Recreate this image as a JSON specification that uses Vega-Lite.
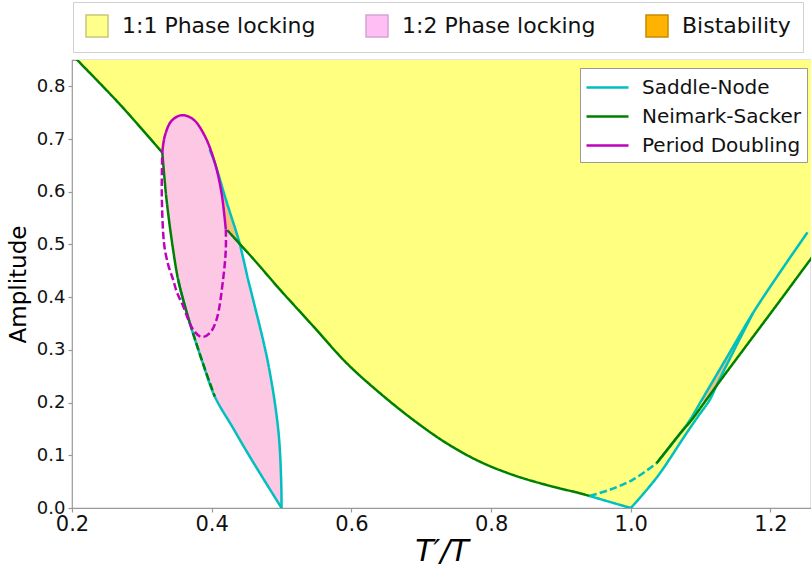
{
  "$schema": "https://vega.github.io/schema/vega-lite/v6.json",
  "width": 739,
  "height": 448,
  "autosize": {"type": "none"},
  "padding": {"left": 72, "top": 60, "right": 0, "bottom": 59},
  "background": "white",
  "config": {
    "view": {"stroke": "#999999", "strokeWidth": 1.2},
    "font": "DejaVu Sans"
  },
  "datasets": {
    "yel": [
      {"i": 0, "x": 0.2, "y": 0.861}, {"i": 1, "x": 0.2064, "y": 0.8517}, {"i": 2, "x": 0.2684, "y": 0.766},
      {"i": 3, "x": 0.3293, "y": 0.6743}, {"i": 4, "x": 0.376, "y": 0.6}, {"i": 5, "x": 0.4221, "y": 0.5272},
      {"i": 6, "x": 0.46, "y": 0.472}, {"i": 7, "x": 0.4977, "y": 0.4144}, {"i": 8, "x": 0.5455, "y": 0.3447},
      {"i": 9, "x": 0.593, "y": 0.2751}, {"i": 10, "x": 0.6407, "y": 0.2181}, {"i": 11, "x": 0.6884, "y": 0.1673},
      {"i": 12, "x": 0.7361, "y": 0.123}, {"i": 13, "x": 0.7839, "y": 0.088}, {"i": 14, "x": 0.8315, "y": 0.0627},
      {"i": 15, "x": 0.8793, "y": 0.0437}, {"i": 16, "x": 0.9271, "y": 0.0279}, {"i": 17, "x": 0.941, "y": 0.0228},
      {"i": 18, "x": 0.97, "y": 0.0115}, {"i": 19, "x": 1.0, "y": 0.0}, {"i": 20, "x": 1.02, "y": 0.03},
      {"i": 21, "x": 1.0417, "y": 0.066}, {"i": 22, "x": 1.0798, "y": 0.142}, {"i": 23, "x": 1.0964, "y": 0.174},
      {"i": 24, "x": 1.113, "y": 0.205}, {"i": 25, "x": 1.123, "y": 0.233}, {"i": 26, "x": 1.17, "y": 0.316},
      {"i": 27, "x": 1.21, "y": 0.387}, {"i": 28, "x": 1.258, "y": 0.473}, {"i": 29, "x": 1.27, "y": 0.494},
      {"i": 30, "x": 1.27, "y": 0.87}, {"i": 31, "x": 0.2, "y": 0.87}
    ],
    "pink": [
      {"i": 0, "x": 0.3293, "y": 0.6743}, {"i": 1, "x": 0.3329, "y": 0.7059}, {"i": 2, "x": 0.3424, "y": 0.7344},
      {"i": 3, "x": 0.3568, "y": 0.7452}, {"i": 4, "x": 0.3734, "y": 0.7376}, {"i": 5, "x": 0.3901, "y": 0.7059},
      {"i": 6, "x": 0.4044, "y": 0.6553}, {"i": 7, "x": 0.414, "y": 0.5983}, {"i": 8, "x": 0.4202, "y": 0.5285},
      {"i": 9, "x": 0.44, "y": 0.502}, {"i": 10, "x": 0.4521, "y": 0.4335}, {"i": 11, "x": 0.4593, "y": 0.3954},
      {"i": 12, "x": 0.4807, "y": 0.2751}, {"i": 13, "x": 0.4953, "y": 0.1483}, {"i": 14, "x": 0.4995, "y": 0.05},
      {"i": 15, "x": 0.5, "y": 0.0}, {"i": 16, "x": 0.4545, "y": 0.0975}, {"i": 17, "x": 0.43, "y": 0.153},
      {"i": 18, "x": 0.4044, "y": 0.2116}, {"i": 19, "x": 0.386, "y": 0.28}, {"i": 20, "x": 0.3686, "y": 0.3511},
      {"i": 21, "x": 0.3591, "y": 0.3954}, {"i": 22, "x": 0.3519, "y": 0.4335}, {"i": 23, "x": 0.3447, "y": 0.4905},
      {"i": 24, "x": 0.3353, "y": 0.5856}
    ],
    "orange": [
      {"poly": "a", "i": 0, "x": 0.4044, "y": 0.6553}, {"poly": "a", "i": 1, "x": 0.414, "y": 0.5983},
      {"poly": "a", "i": 2, "x": 0.4202, "y": 0.5285}, {"poly": "a", "i": 3, "x": 0.44, "y": 0.502},
      {"poly": "a", "i": 4, "x": 0.4355, "y": 0.5222}, {"poly": "a", "i": 5, "x": 0.4202, "y": 0.5856},
      {"poly": "b", "i": 0, "x": 1.0994, "y": 0.2}, {"poly": "b", "i": 1, "x": 1.1394, "y": 0.29},
      {"poly": "b", "i": 2, "x": 1.175, "y": 0.37}, {"poly": "b", "i": 3, "x": 1.15, "y": 0.305},
      {"poly": "b", "i": 4, "x": 1.123, "y": 0.233}, {"poly": "b", "i": 5, "x": 1.108, "y": 0.205}
    ],
    "cyan": [
      {"curve": "Saddle-Node", "seg": "L", "dash": "solid", "i": 0, "x": 0.3519, "y": 0.4335},
      {"curve": "Saddle-Node", "seg": "L", "dash": "solid", "i": 1, "x": 0.3591, "y": 0.3954},
      {"curve": "Saddle-Node", "seg": "L", "dash": "solid", "i": 2, "x": 0.3686, "y": 0.3511},
      {"curve": "Saddle-Node", "seg": "L", "dash": "solid", "i": 3, "x": 0.386, "y": 0.28},
      {"curve": "Saddle-Node", "seg": "L", "dash": "solid", "i": 4, "x": 0.4044, "y": 0.2116},
      {"curve": "Saddle-Node", "seg": "L", "dash": "solid", "i": 5, "x": 0.43, "y": 0.153},
      {"curve": "Saddle-Node", "seg": "L", "dash": "solid", "i": 6, "x": 0.4545, "y": 0.0975},
      {"curve": "Saddle-Node", "seg": "L", "dash": "solid", "i": 7, "x": 0.5, "y": 0.0},
      {"curve": "Saddle-Node", "seg": "R", "dash": "solid", "i": 0, "x": 0.397, "y": 0.68},
      {"curve": "Saddle-Node", "seg": "R", "dash": "solid", "i": 1, "x": 0.4044, "y": 0.6553},
      {"curve": "Saddle-Node", "seg": "R", "dash": "solid", "i": 2, "x": 0.4202, "y": 0.5856},
      {"curve": "Saddle-Node", "seg": "R", "dash": "solid", "i": 3, "x": 0.4355, "y": 0.5222},
      {"curve": "Saddle-Node", "seg": "R", "dash": "solid", "i": 4, "x": 0.44, "y": 0.502},
      {"curve": "Saddle-Node", "seg": "R", "dash": "solid", "i": 5, "x": 0.4521, "y": 0.4335},
      {"curve": "Saddle-Node", "seg": "R", "dash": "solid", "i": 6, "x": 0.4593, "y": 0.3954},
      {"curve": "Saddle-Node", "seg": "R", "dash": "solid", "i": 7, "x": 0.4807, "y": 0.2751},
      {"curve": "Saddle-Node", "seg": "R", "dash": "solid", "i": 8, "x": 0.4953, "y": 0.1483},
      {"curve": "Saddle-Node", "seg": "R", "dash": "solid", "i": 9, "x": 0.4995, "y": 0.05},
      {"curve": "Saddle-Node", "seg": "R", "dash": "solid", "i": 10, "x": 0.5, "y": 0.0},
      {"curve": "Saddle-Node", "seg": "D", "dash": "dashed", "i": 0, "x": 0.941, "y": 0.0228},
      {"curve": "Saddle-Node", "seg": "D", "dash": "dashed", "i": 1, "x": 0.9685, "y": 0.034},
      {"curve": "Saddle-Node", "seg": "D", "dash": "dashed", "i": 2, "x": 1.002, "y": 0.053},
      {"curve": "Saddle-Node", "seg": "D", "dash": "dashed", "i": 3, "x": 1.037, "y": 0.085},
      {"curve": "Saddle-Node", "seg": "C2a", "dash": "solid", "i": 0, "x": 0.941, "y": 0.0228},
      {"curve": "Saddle-Node", "seg": "C2a", "dash": "solid", "i": 1, "x": 0.97, "y": 0.0115},
      {"curve": "Saddle-Node", "seg": "C2a", "dash": "solid", "i": 2, "x": 1.0, "y": 0.0},
      {"curve": "Saddle-Node", "seg": "C2b", "dash": "solid", "i": 0, "x": 1.0, "y": 0.0},
      {"curve": "Saddle-Node", "seg": "C2b", "dash": "solid", "i": 1, "x": 1.02, "y": 0.03},
      {"curve": "Saddle-Node", "seg": "C2b", "dash": "solid", "i": 2, "x": 1.0417, "y": 0.066},
      {"curve": "Saddle-Node", "seg": "C2b", "dash": "solid", "i": 3, "x": 1.0798, "y": 0.142},
      {"curve": "Saddle-Node", "seg": "C2b", "dash": "solid", "i": 4, "x": 1.0964, "y": 0.174},
      {"curve": "Saddle-Node", "seg": "C2b", "dash": "solid", "i": 5, "x": 1.113, "y": 0.205},
      {"curve": "Saddle-Node", "seg": "C2b", "dash": "solid", "i": 6, "x": 1.123, "y": 0.233},
      {"curve": "Saddle-Node", "seg": "C2b", "dash": "solid", "i": 7, "x": 1.15, "y": 0.305},
      {"curve": "Saddle-Node", "seg": "C2b", "dash": "solid", "i": 8, "x": 1.175, "y": 0.37},
      {"curve": "Saddle-Node", "seg": "C1", "dash": "solid", "i": 0, "x": 1.037, "y": 0.085},
      {"curve": "Saddle-Node", "seg": "C1", "dash": "solid", "i": 1, "x": 1.071, "y": 0.142},
      {"curve": "Saddle-Node", "seg": "C1", "dash": "solid", "i": 2, "x": 1.0847, "y": 0.167},
      {"curve": "Saddle-Node", "seg": "C1", "dash": "solid", "i": 3, "x": 1.0994, "y": 0.2},
      {"curve": "Saddle-Node", "seg": "C1", "dash": "solid", "i": 4, "x": 1.1394, "y": 0.29},
      {"curve": "Saddle-Node", "seg": "C1", "dash": "solid", "i": 5, "x": 1.175, "y": 0.37},
      {"curve": "Saddle-Node", "seg": "C1", "dash": "solid", "i": 6, "x": 1.215, "y": 0.45},
      {"curve": "Saddle-Node", "seg": "C1", "dash": "solid", "i": 7, "x": 1.253, "y": 0.523}
    ],
    "green": [
      {"curve": "Neimark-Sacker", "seg": "A", "dash": "solid", "i": 0, "x": 0.2, "y": 0.861},
      {"curve": "Neimark-Sacker", "seg": "A", "dash": "solid", "i": 1, "x": 0.2064, "y": 0.8517},
      {"curve": "Neimark-Sacker", "seg": "A", "dash": "solid", "i": 2, "x": 0.2684, "y": 0.766},
      {"curve": "Neimark-Sacker", "seg": "A", "dash": "solid", "i": 3, "x": 0.3293, "y": 0.6743},
      {"curve": "Neimark-Sacker", "seg": "L", "dash": "solid", "i": 0, "x": 0.3293, "y": 0.6743},
      {"curve": "Neimark-Sacker", "seg": "L", "dash": "solid", "i": 1, "x": 0.3353, "y": 0.5856},
      {"curve": "Neimark-Sacker", "seg": "L", "dash": "solid", "i": 2, "x": 0.3447, "y": 0.4905},
      {"curve": "Neimark-Sacker", "seg": "L", "dash": "solid", "i": 3, "x": 0.3519, "y": 0.4335},
      {"curve": "Neimark-Sacker", "seg": "L", "dash": "solid", "i": 4, "x": 0.3591, "y": 0.3954},
      {"curve": "Neimark-Sacker", "seg": "L", "dash": "solid", "i": 5, "x": 0.3686, "y": 0.3511},
      {"curve": "Neimark-Sacker", "seg": "Ld", "dash": "dashed", "i": 0, "x": 0.3686, "y": 0.3511},
      {"curve": "Neimark-Sacker", "seg": "Ld", "dash": "dashed", "i": 1, "x": 0.386, "y": 0.28},
      {"curve": "Neimark-Sacker", "seg": "Ld", "dash": "dashed", "i": 2, "x": 0.4044, "y": 0.2116},
      {"curve": "Neimark-Sacker", "seg": "B", "dash": "solid", "i": 0, "x": 0.4221, "y": 0.5272},
      {"curve": "Neimark-Sacker", "seg": "B", "dash": "solid", "i": 1, "x": 0.46, "y": 0.472},
      {"curve": "Neimark-Sacker", "seg": "B", "dash": "solid", "i": 2, "x": 0.4977, "y": 0.4144},
      {"curve": "Neimark-Sacker", "seg": "B", "dash": "solid", "i": 3, "x": 0.5455, "y": 0.3447},
      {"curve": "Neimark-Sacker", "seg": "B", "dash": "solid", "i": 4, "x": 0.593, "y": 0.2751},
      {"curve": "Neimark-Sacker", "seg": "B", "dash": "solid", "i": 5, "x": 0.6407, "y": 0.2181},
      {"curve": "Neimark-Sacker", "seg": "B", "dash": "solid", "i": 6, "x": 0.6884, "y": 0.1673},
      {"curve": "Neimark-Sacker", "seg": "B", "dash": "solid", "i": 7, "x": 0.7361, "y": 0.123},
      {"curve": "Neimark-Sacker", "seg": "B", "dash": "solid", "i": 8, "x": 0.7839, "y": 0.088},
      {"curve": "Neimark-Sacker", "seg": "B", "dash": "solid", "i": 9, "x": 0.8315, "y": 0.0627},
      {"curve": "Neimark-Sacker", "seg": "B", "dash": "solid", "i": 10, "x": 0.8793, "y": 0.0437},
      {"curve": "Neimark-Sacker", "seg": "B", "dash": "solid", "i": 11, "x": 0.9271, "y": 0.0279},
      {"curve": "Neimark-Sacker", "seg": "B", "dash": "solid", "i": 12, "x": 0.941, "y": 0.0228},
      {"curve": "Neimark-Sacker", "seg": "R", "dash": "solid", "i": 0, "x": 1.037, "y": 0.085},
      {"curve": "Neimark-Sacker", "seg": "R", "dash": "solid", "i": 1, "x": 1.071, "y": 0.142},
      {"curve": "Neimark-Sacker", "seg": "R", "dash": "solid", "i": 2, "x": 1.087, "y": 0.167},
      {"curve": "Neimark-Sacker", "seg": "R", "dash": "solid", "i": 3, "x": 1.108, "y": 0.205},
      {"curve": "Neimark-Sacker", "seg": "R", "dash": "solid", "i": 4, "x": 1.13, "y": 0.245},
      {"curve": "Neimark-Sacker", "seg": "R", "dash": "solid", "i": 5, "x": 1.17, "y": 0.316},
      {"curve": "Neimark-Sacker", "seg": "R", "dash": "solid", "i": 6, "x": 1.21, "y": 0.387},
      {"curve": "Neimark-Sacker", "seg": "R", "dash": "solid", "i": 7, "x": 1.258, "y": 0.473},
      {"curve": "Neimark-Sacker", "seg": "R", "dash": "solid", "i": 8, "x": 1.27, "y": 0.494}
    ],
    "purple": [
      {"curve": "Period Doubling", "seg": "S", "dash": "solid", "i": 0, "x": 0.3293, "y": 0.6743},
      {"curve": "Period Doubling", "seg": "S", "dash": "solid", "i": 1, "x": 0.3329, "y": 0.7059},
      {"curve": "Period Doubling", "seg": "S", "dash": "solid", "i": 2, "x": 0.3424, "y": 0.7344},
      {"curve": "Period Doubling", "seg": "S", "dash": "solid", "i": 3, "x": 0.3568, "y": 0.7452},
      {"curve": "Period Doubling", "seg": "S", "dash": "solid", "i": 4, "x": 0.3734, "y": 0.7376},
      {"curve": "Period Doubling", "seg": "S", "dash": "solid", "i": 5, "x": 0.3901, "y": 0.7059},
      {"curve": "Period Doubling", "seg": "S", "dash": "solid", "i": 6, "x": 0.4044, "y": 0.6553},
      {"curve": "Period Doubling", "seg": "S", "dash": "solid", "i": 7, "x": 0.414, "y": 0.5983},
      {"curve": "Period Doubling", "seg": "S", "dash": "solid", "i": 8, "x": 0.4202, "y": 0.5285},
      {"curve": "Period Doubling", "seg": "D", "dash": "dashed", "i": 0, "x": 0.4202, "y": 0.5285},
      {"curve": "Period Doubling", "seg": "D", "dash": "dashed", "i": 1, "x": 0.4202, "y": 0.4905},
      {"curve": "Period Doubling", "seg": "D", "dash": "dashed", "i": 2, "x": 0.4163, "y": 0.4335},
      {"curve": "Period Doubling", "seg": "D", "dash": "dashed", "i": 3, "x": 0.4069, "y": 0.3574},
      {"curve": "Period Doubling", "seg": "D", "dash": "dashed", "i": 4, "x": 0.3973, "y": 0.3321},
      {"curve": "Period Doubling", "seg": "D", "dash": "dashed", "i": 5, "x": 0.3854, "y": 0.3245},
      {"curve": "Period Doubling", "seg": "D", "dash": "dashed", "i": 6, "x": 0.3735, "y": 0.3384},
      {"curve": "Period Doubling", "seg": "D", "dash": "dashed", "i": 7, "x": 0.3592, "y": 0.3827},
      {"curve": "Period Doubling", "seg": "D", "dash": "dashed", "i": 8, "x": 0.35, "y": 0.41},
      {"curve": "Period Doubling", "seg": "D", "dash": "dashed", "i": 9, "x": 0.3447, "y": 0.4335},
      {"curve": "Period Doubling", "seg": "D", "dash": "dashed", "i": 10, "x": 0.338, "y": 0.46},
      {"curve": "Period Doubling", "seg": "D", "dash": "dashed", "i": 11, "x": 0.333, "y": 0.4905},
      {"curve": "Period Doubling", "seg": "D", "dash": "dashed", "i": 12, "x": 0.3306, "y": 0.52},
      {"curve": "Period Doubling", "seg": "D", "dash": "dashed", "i": 13, "x": 0.3285, "y": 0.6},
      {"curve": "Period Doubling", "seg": "D", "dash": "dashed", "i": 14, "x": 0.3293, "y": 0.6743}
    ],
    "legfill": [
      {"lab": "1:1 Phase locking", "x": -1, "y": -1},
      {"lab": "1:2 Phase locking", "x": -1, "y": -1},
      {"lab": "Bistability", "x": -1, "y": -1}
    ]
  },
  "layer": [
    {
      "data": {"name": "yel"},
      "mark": {"type": "line", "fill": "#ffff80", "strokeOpacity": 0, "strokeWidth": 0, "interpolate": "linear-closed", "clip": true},
      "encoding": {
        "x": {"field": "x", "type": "quantitative", "scale": {"domain": [0.2, 1.258], "nice": false, "zero": false},
          "axis": {"values": [0.2, 0.4, 0.6, 0.8, 1.0, 1.2], "format": ".1f", "labelFlush": false, "labelOverlap": false,
            "grid": false, "domain": false, "tickSize": 4, "tickColor": "#999999", "tickWidth": 1.2,
            "labelFont": "DejaVu Sans", "labelFontSize": 21, "labelColor": "#111111", "labelPadding": 1,
            "title": "T′/T", "titleFont": "DejaVu Sans", "titleFontStyle": "italic", "titleFontWeight": "normal", "titleFontSize": 30, "titleColor": "#000000", "titlePadding": 2}},
        "y": {"field": "y", "type": "quantitative", "scale": {"domain": [0, 0.85], "nice": false, "zero": false},
          "axis": {"values": [0, 0.1, 0.2, 0.3, 0.4, 0.5, 0.6, 0.7, 0.8], "format": ".1f", "labelFlush": false, "labelOverlap": false,
            "grid": false, "domain": false, "tickSize": 4, "tickColor": "#999999", "tickWidth": 1.2,
            "labelFont": "DejaVu Sans", "labelFontSize": 18, "labelColor": "#111111", "labelPadding": 3,
            "title": "Amplitude", "titleFont": "DejaVu Sans", "titleFontWeight": "normal", "titleFontSize": 23, "titleColor": "#000000", "titlePadding": 6}},
        "order": {"field": "i", "type": "quantitative"}
      }
    },
    {
      "data": {"name": "pink"},
      "mark": {"type": "line", "fill": "#fdc8e4", "strokeOpacity": 0, "strokeWidth": 0, "interpolate": "linear-closed", "clip": true},
      "encoding": {
        "x": {"field": "x", "type": "quantitative"},
        "y": {"field": "y", "type": "quantitative"},
        "order": {"field": "i", "type": "quantitative"}
      }
    },
    {
      "data": {"name": "orange"},
      "mark": {"type": "line", "fill": "#f9bf7c", "strokeOpacity": 0, "strokeWidth": 0, "interpolate": "linear-closed", "clip": true},
      "encoding": {
        "x": {"field": "x", "type": "quantitative"},
        "y": {"field": "y", "type": "quantitative"},
        "detail": {"field": "poly", "type": "nominal"},
        "order": {"field": "i", "type": "quantitative"}
      }
    },
    {
      "data": {"name": "cyan"},
      "mark": {"type": "line", "strokeWidth": 2.5, "interpolate": "catmull-rom", "clip": true},
      "encoding": {
        "x": {"field": "x", "type": "quantitative"},
        "y": {"field": "y", "type": "quantitative"},
        "color": {"field": "curve", "type": "nominal",
          "scale": {"domain": ["Saddle-Node", "Neimark-Sacker", "Period Doubling"], "range": ["#00bfbf", "#008000", "#bf00bf"]},
          "legend": {"title": null, "orient": "none", "legendX": 508, "legendY": 8, "symbolType": "M-1.0833,0H2.4167", "symbolSize": 576,
            "symbolStrokeWidth": 2.5, "labelFont": "DejaVu Sans", "labelFontSize": 20, "labelColor": "#111111", "labelOffset": 29,
            "rowPadding": 5, "padding": 6, "strokeColor": "#999999", "fillColor": "white", "cornerRadius": 0, "labelLimit": 400}},
        "detail": {"field": "seg", "type": "nominal"},
        "strokeDash": {"field": "dash", "type": "nominal", "scale": {"domain": ["solid", "dashed"], "range": [[1, 0], [7.4, 3.2]]}, "legend": null},
        "order": {"field": "i", "type": "quantitative"}
      }
    },
    {
      "data": {"name": "green"},
      "mark": {"type": "line", "strokeWidth": 2.5, "interpolate": "catmull-rom", "clip": true},
      "encoding": {
        "x": {"field": "x", "type": "quantitative"},
        "y": {"field": "y", "type": "quantitative"},
        "color": {"field": "curve", "type": "nominal"},
        "detail": {"field": "seg", "type": "nominal"},
        "strokeDash": {"field": "dash", "type": "nominal", "legend": null},
        "order": {"field": "i", "type": "quantitative"}
      }
    },
    {
      "data": {"name": "purple"},
      "mark": {"type": "line", "strokeWidth": 2.5, "interpolate": "catmull-rom", "clip": true},
      "encoding": {
        "x": {"field": "x", "type": "quantitative"},
        "y": {"field": "y", "type": "quantitative"},
        "color": {"field": "curve", "type": "nominal"},
        "detail": {"field": "seg", "type": "nominal"},
        "strokeDash": {"field": "dash", "type": "nominal", "legend": null},
        "order": {"field": "i", "type": "quantitative"}
      }
    },
    {
      "data": {"name": "legfill"},
      "mark": {"type": "square", "clip": true, "opacity": 1, "filled": true},
      "encoding": {
        "x": {"field": "x", "type": "quantitative"},
        "y": {"field": "y", "type": "quantitative"},
        "fill": {"field": "lab", "type": "nominal",
          "scale": {"domain": ["1:1 Phase locking", "1:2 Phase locking", "Bistability"], "range": ["#ffff8c", "#ffbff5", "#ffb200"]},
          "legend": {"title": null, "orient": "none", "legendX": 1, "legendY": -58, "direction": "horizontal", "symbolType": "square",
            "symbolSize": 484, "symbolStrokeWidth": 1.5, "symbolOpacity": 1, "labelFont": "DejaVu Sans", "labelFontSize": 22, "labelColor": "#111111",
            "labelOffset": 13, "columnPadding": 47, "padding": 12, "strokeColor": "#d0d0d0", "fillColor": "white", "cornerRadius": 0, "labelLimit": 400}},
        "stroke": {"field": "lab", "type": "nominal",
          "scale": {"domain": ["1:1 Phase locking", "1:2 Phase locking", "Bistability"], "range": ["#c8c878", "#d4a4d4", "#c88c00"]},
          "legend": {"title": null, "orient": "none", "legendX": 1, "legendY": -58, "direction": "horizontal", "symbolType": "square",
            "symbolSize": 484, "symbolStrokeWidth": 1.5, "symbolOpacity": 1, "labelFont": "DejaVu Sans", "labelFontSize": 22, "labelColor": "#111111",
            "labelOffset": 13, "columnPadding": 47, "padding": 12, "strokeColor": "#d0d0d0", "fillColor": "white", "cornerRadius": 0, "labelLimit": 400}}
      }
    }
  ]
}
